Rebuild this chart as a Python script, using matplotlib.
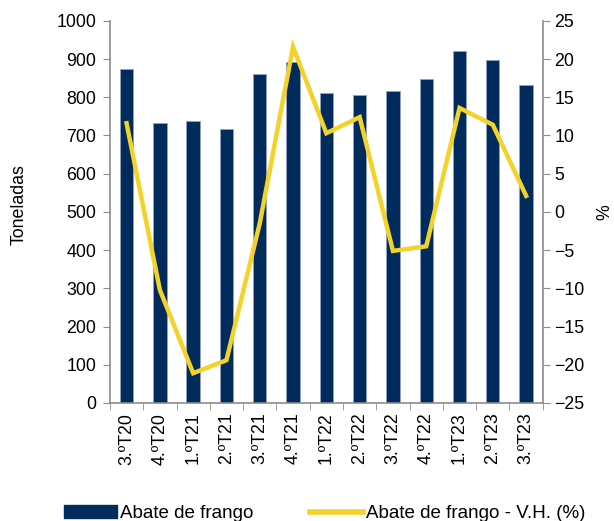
import numpy as np
import matplotlib.pyplot as plt
from matplotlib.lines import Line2D
from matplotlib.patches import Patch

plt.rcParams["font.family"] = ["Liberation Sans", "DejaVu Sans"]

quarters = ["3.ºT20", "4.ºT20", "1.ºT21", "2.ºT21", "3.ºT21", "4.ºT21", "1.ºT22",
            "2.ºT22", "3.ºT22", "4.ºT22", "1.ºT23", "2.ºT23", "3.ºT23"]
abate = [875, 733, 738, 718, 862, 893, 812, 806, 816, 849, 920, 897, 832]
vh = [11.6, -10.2, -21.1, -19.4, -1.5, 21.6, 10.3, 12.4, -5.1, -4.5, 13.6, 11.4, 2.1]

navy = "#002B5C"
yellow = "#F2D22B"
grey = "#8C8C8C"
fs = 12.8

fig = plt.figure(figsize=(6.14, 5.21), dpi=100)
ax = fig.add_axes([0.179, 0.2265, 0.705, 0.7335])
x = np.arange(len(quarters))

ax.bar(x, abate, width=0.4, color=navy, edgecolor="#8FA3BF", linewidth=0.6, zorder=2)
ax.set_xlim(-0.5, len(quarters) - 0.5)
ax.set_ylim(0, 1000)
ax.set_yticks(range(0, 1001, 100))
ax.set_xticks(x)
ax.set_xticklabels(quarters, rotation=90, fontsize=fs)
ax.tick_params(axis="x", length=0, pad=7)
ax.set_xticks(np.arange(-0.5, len(quarters), 1), minor=True)
ax.tick_params(axis="x", which="minor", length=5, color=grey, direction="out")
ax.tick_params(axis="y", labelsize=fs, length=5, color=grey, direction="out", pad=5)
for s in ["top", "right"]:
    ax.spines[s].set_visible(False)
for s in ["left", "bottom"]:
    ax.spines[s].set_color(grey)
    ax.spines[s].set_linewidth(1.2)

ax2 = ax.twinx()
ax2.plot(x, vh, color=yellow, linewidth=3.2, solid_joinstyle="miter", zorder=3)
ax2.set_ylim(-25, 25)
ax2.set_yticks(range(-25, 26, 5))
ax2.tick_params(axis="y", labelsize=fs, length=5, color=grey, direction="out")
for s in ["top", "left", "bottom"]:
    ax2.spines[s].set_visible(False)
ax2.spines["right"].set_color(grey)
ax2.spines["right"].set_linewidth(1.2)

# axis titles placed as in the original
fig.text(19 / 614, 1 - 205 / 521, "Toneladas", rotation=90, ha="center", va="center", fontsize=fs)
fig.text(605 / 614, 1 - 212 / 521, "%", rotation=90, ha="center", va="center", fontsize=fs)

handles = [Patch(facecolor=navy, edgecolor=navy),
           Line2D([0], [0], color=yellow, linewidth=4)]
fig.legend(handles, ["Abate de frango", "Abate de frango - V.H. (%)"],
           loc="lower left", bbox_to_anchor=(0.077, -0.035), ncol=2, frameon=False,
           fontsize=13.5, handlelength=2.8, handletextpad=0.2, columnspacing=3.0)

fig.savefig("out.png", dpi=100)
